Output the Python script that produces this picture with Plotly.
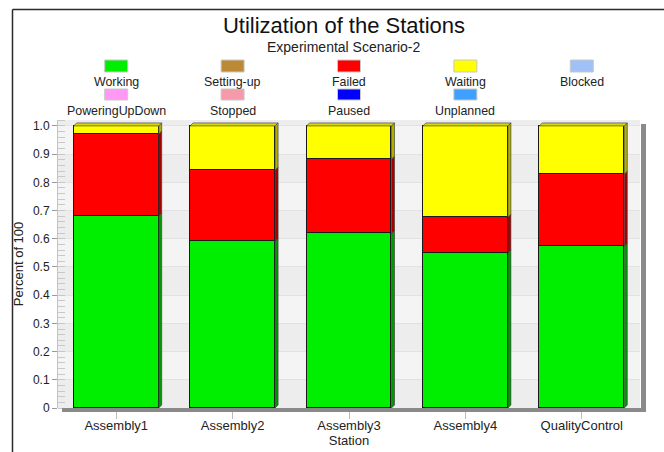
import plotly.graph_objects as go

# ---- data ----
stations = ["Assembly1", "Assembly2", "Assembly3", "Assembly4", "QualityControl"]
working = [0.681, 0.591, 0.619, 0.550, 0.574]
failed = [0.290, 0.252, 0.263, 0.126, 0.255]
waiting = [0.029, 0.157, 0.118, 0.324, 0.171]

legend_names = ["Working", "Setting-up", "Failed", "Waiting", "Blocked",
                "PoweringUpDown", "Stopped", "Paused", "Unplanned"]
legend_colors = ["#00EE00", "#BC8A34", "#FF0000", "#FFFF00", "#A0C0F8",
                 "#FF99F4", "#F59AA8", "#0000FF", "#40A0FF"]

y_ticks = [0, 0.1, 0.2, 0.3, 0.4, 0.5, 0.6, 0.7, 0.8, 0.9, 1.0]
y_labels = ["0", "0.1", "0.2", "0.3", "0.4", "0.5", "0.6", "0.7", "0.8", "0.9", "1.0"]

# ---- geometry of the figure ----
W, H = 664, 452
ML, MR, MT, MB = 58, 24, 120, 44
PW, PH = W - ML - MR, H - MT - MB
Y_MAX = 1.021
BAR_W = 0.73
DEPTH = 3  # px of the 3D bar faces
dx = DEPTH * 5.0 / PW
dy = DEPTH * Y_MAX / PH


def px(xp):
    return (xp - ML) / PW


def py(yp):
    return (H - MB - yp) / PH


FONT = "Liberation Sans, Arial, sans-serif"
series = [("Working", working, "#00EE00", "#009A00"),
          ("Failed", failed, "#FF0000", "#A80000"),
          ("Waiting", waiting, "#FFFF00", "#B0B000")]

fig = go.Figure()
xs = list(range(len(stations)))

# stacked bars
for name, vals, col, _ in series:
    fig.add_trace(go.Bar(x=xs, y=vals, name=name, width=BAR_W,
                         marker=dict(color=col, line=dict(color="#1a1a1a", width=1)),
                         showlegend=False))

# side faces of each stacked segment, plus the top face
base = [0.0] * len(stations)
for name, vals, col, dark in series:
    sx, sy = [], []
    for i, v in enumerate(vals):
        x1 = i + BAR_W / 2
        y0, y1 = base[i], base[i] + v
        sx += [x1, x1 + dx, x1 + dx, x1, x1, None]
        sy += [y0, y0 + dy, y1 + dy, y1, y0, None]
        base[i] = y1
    fig.add_trace(go.Scatter(x=sx, y=sy, mode="lines", fill="toself",
                             fillcolor=dark, line=dict(color="#333", width=0.6),
                             hoverinfo="skip", showlegend=False))

tx, ty = [], []
for i, t in enumerate(base):
    x0, x1 = i - BAR_W / 2, i + BAR_W / 2
    tx += [x0, x1, x1 + dx, x0 + dx, x0, None]
    ty += [t, t, t + dy, t + dy, t, None]
fig.add_trace(go.Scatter(x=tx, y=ty, mode="lines", fill="toself",
                         fillcolor="#D8D800", line=dict(color="#333", width=0.6),
                         hoverinfo="skip", showlegend=False))

shapes = []
# alternating bands of the plot background
for k in range(len(y_ticks) - 1):
    shapes.append(dict(type="rect", xref="paper", yref="y", x0=0, x1=1,
                       y0=y_ticks[k], y1=y_ticks[k + 1], layer="below",
                       line=dict(width=0),
                       fillcolor="#EDEDED" if k % 2 == 0 else "#F4F4F4"))
shapes.append(dict(type="rect", xref="paper", yref="y", x0=0, x1=1,
                   y0=y_ticks[-1], y1=Y_MAX, layer="below", line=dict(width=0),
                   fillcolor="#EDEDED"))

# depth shadow along the floor and the right wall
shapes.append(dict(type="rect", xref="paper", yref="paper",
                   x0=px(62), x1=px(646), y0=py(412), y1=py(408),
                   line=dict(width=0), fillcolor="#8A8A8A"))
shapes.append(dict(type="rect", xref="paper", yref="paper",
                   x0=px(641), x1=px(646), y0=py(412), y1=py(124),
                   line=dict(width=0), fillcolor="#8A8A8A"))

# outer frame
shapes.append(dict(type="line", xref="paper", yref="paper",
                   x0=px(12.5), x1=px(700), y0=py(9.5), y1=py(9.5),
                   line=dict(color="#2a2a2a", width=1.5)))
shapes.append(dict(type="line", xref="paper", yref="paper",
                   x0=px(12.5), x1=px(12.5), y0=py(9.5), y1=py(470),
                   line=dict(color="#2a2a2a", width=1.5)))

annotations = []
# custom legend: swatch above its label, five columns
rows = [(60, 72, 82), (89, 100, 111)]
for j, (nm, col) in enumerate(zip(legend_names, legend_colors)):
    r, c = divmod(j, 5)
    top, bot, lab = rows[r]
    cx = (c + 0.5) / 5
    hw = 11.5 / PW
    shapes.append(dict(type="rect", xref="paper", yref="paper",
                       x0=cx - hw, x1=cx + hw, y0=py(bot), y1=py(top),
                       fillcolor=col, line=dict(color="#C8C8C8", width=1)))
    annotations.append(dict(xref="paper", yref="paper", x=cx, y=py(lab),
                            text=nm, showarrow=False, xanchor="center",
                            yanchor="middle",
                            font=dict(family=FONT, size=12.4, color="#222")))

annotations.append(dict(xref="paper", yref="paper", x=px(344), y=py(47),
                        text="Experimental Scenario-2", showarrow=False,
                        xanchor="center", yanchor="middle",
                        font=dict(family=FONT, size=14, color="#222")))

fig.update_layout(
    width=W, height=H,
    margin=dict(l=ML, r=MR, t=MT, b=MB, pad=0, autoexpand=False),
    paper_bgcolor="white", plot_bgcolor="#F2F2F2",
    barmode="stack", bargap=0,
    title=dict(text="Utilization of the Stations", x=344 / W, xref="container",
               xanchor="center", y=1 - 25 / H, yref="container", yanchor="middle",
               font=dict(family=FONT, size=22, color="#111")),
    font=dict(family=FONT, size=12, color="#222"),
    shapes=shapes, annotations=annotations,
    xaxis=dict(range=[-0.5, 4.5], tickvals=xs, ticktext=stations,
               automargin=False,
               showgrid=False, zeroline=False, showline=False,
               ticks="outside", ticklen=10, tickcolor="#BBBBBB",
               ticklabelstandoff=-5,
               tickfont=dict(family=FONT, size=13, color="#222"),
               title=dict(text="Station", standoff=2,
                          font=dict(family=FONT, size=13, color="#222"))),
    yaxis=dict(range=[0, Y_MAX], tickvals=y_ticks, ticktext=y_labels,
               automargin=False,
               showgrid=True, gridcolor="#E2E2E2", gridwidth=1, zeroline=False,
               showline=True, linecolor="#C4C4C4", linewidth=1, mirror=False,
               ticks="outside", ticklen=5, tickcolor="#999999",
               tickfont=dict(family=FONT, size=12, color="#222"),
               minor=dict(dtick=0.02, ticks="inside", ticklen=7,
                          tickcolor="#C8C8C8", showgrid=False),
               title=dict(text="Percent of 100", standoff=6,
                          font=dict(family=FONT, size=13, color="#222"))),
)

fig.write_html("out.html")
